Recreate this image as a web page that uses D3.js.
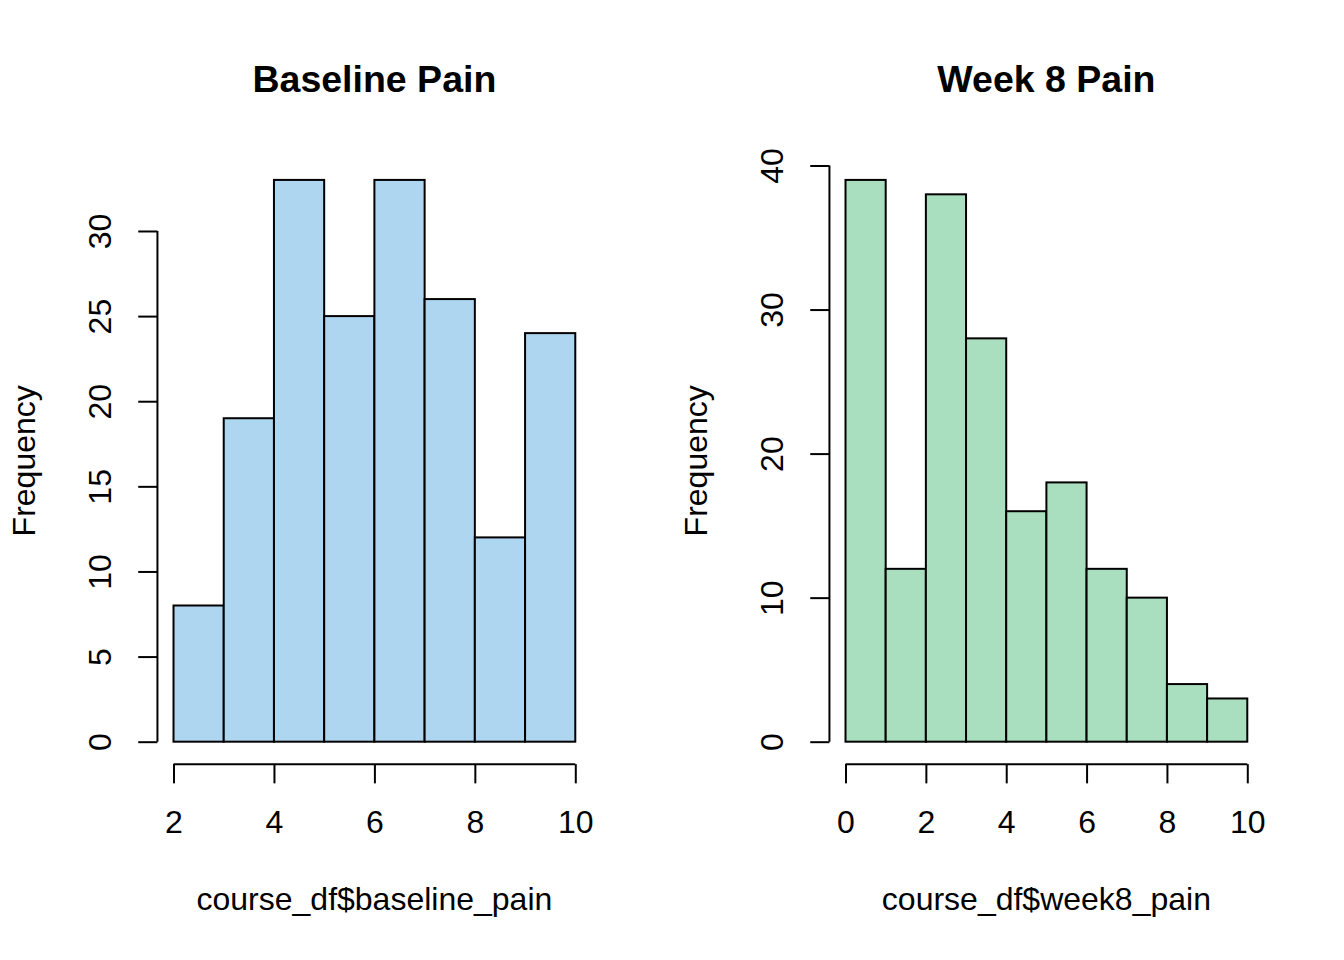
<!DOCTYPE html>
<html>
<head>
<meta charset="utf-8">
<script src="https://cdn.jsdelivr.net/npm/d3@7"></script>
<style>
html,body{margin:0;padding:0;background:#fff;}
text{font-family:"Liberation Sans",Arial,Helvetica,sans-serif;fill:#000;}
</style>
</head>
<body>
<svg id="chart" width="1344" height="960"></svg>
<script>
// ---- data ----
const baselineBreaks = [2,3,4,5,6,7,8,9,10];
const baselineCounts = [8,19,33,25,33,26,12,24];
const baselineXTicks = [2,4,6,8,10];
const baselineYTicks = [0,5,10,15,20,25,30];

const week8Breaks = [0,1,2,3,4,5,6,7,8,9,10];
const week8Counts = [39,12,38,28,16,18,12,10,4,3];
const week8XTicks = [0,2,4,6,8,10];
const week8YTicks = [0,10,20,30,40];

const panels = [
  {title:"Baseline Pain", xlab:"course_df$baseline_pain", ylab:"Frequency",
   breaks:baselineBreaks, counts:baselineCounts, xticks:baselineXTicks, yticks:baselineYTicks, fill:"#AED6F1"},
  {title:"Week 8 Pain", xlab:"course_df$week8_pain", ylab:"Frequency",
   breaks:week8Breaks, counts:week8Counts, xticks:week8XTicks, yticks:week8YTicks, fill:"#A9DFBF"}
];

const svg = d3.select("#chart");
const W = 672, H = 960;
const lineH = 38.4;
const mar = {b:5.1*lineH, l:4.1*lineH, t:4.1*lineH, r:2.1*lineH};
const fs = 32, tickLen = 19.2, lw = 2;

panels.forEach((p,i)=>{
  const g = svg.append("g").attr("transform",`translate(${i*W},0)`);
  const x0 = mar.l, x1 = W - mar.r, y0 = H - mar.b, y1 = mar.t;
  const bmin = d3.min(p.breaks), bmax = d3.max(p.breaks);
  const xpad = (bmax-bmin)*0.04;
  const ymax = d3.max(p.counts);
  const ypad = ymax*0.04;
  const x = d3.scaleLinear().domain([bmin-xpad, bmax+xpad]).range([x0,x1]);
  const y = d3.scaleLinear().domain([-ypad, ymax+ypad]).range([y0,y1]);

  const bins = p.counts.map((c,k)=>({lo:p.breaks[k], hi:p.breaks[k+1], c}));
  g.selectAll("rect.bar").data(bins).enter().append("rect")
    .attr("class","bar")
    .attr("x",d=>x(d.lo)).attr("width",d=>x(d.hi)-x(d.lo))
    .attr("y",d=>y(d.c)).attr("height",d=>y(0)-y(d.c))
    .attr("fill",p.fill).attr("stroke","#000").attr("stroke-width",lw);

  // x axis
  const xa = g.append("g").attr("transform",`translate(0,${y0})`)
    .call(d3.axisBottom(x).tickValues(p.xticks).tickSize(tickLen).tickSizeOuter(0).tickFormat(d3.format("d")));
  xa.select(".domain").remove();
  xa.append("line").attr("x1",x(p.xticks[0])).attr("x2",x(p.xticks[p.xticks.length-1]))
    .attr("y1",0).attr("y2",0).attr("stroke","#000").attr("stroke-width",lw);
  xa.selectAll(".tick line").attr("stroke","#000").attr("stroke-width",lw);
  xa.selectAll(".tick text").attr("dy",null)
    .attr("y",833-y0).attr("font-size",fs).attr("fill","#000");
  xa.attr("font-family",null).attr("font-size",null);

  // y axis
  const ya = g.append("g").attr("transform",`translate(${x0},0)`)
    .call(d3.axisLeft(y).tickValues(p.yticks).tickSize(tickLen).tickSizeOuter(0).tickFormat(d3.format("d")));
  ya.select(".domain").remove();
  ya.append("line").attr("y1",y(p.yticks[0])).attr("y2",y(p.yticks[p.yticks.length-1]))
    .attr("x1",0).attr("x2",0).attr("stroke","#000").attr("stroke-width",lw);
  ya.selectAll(".tick line").attr("stroke","#000").attr("stroke-width",lw);
  ya.selectAll(".tick text").attr("x",null).attr("dy",null).attr("y",null)
    .attr("text-anchor","middle")
    .attr("transform","translate(-46,0) rotate(-90)")
    .attr("font-size",fs).attr("fill","#000");
  ya.attr("font-family",null).attr("font-size",null);

  // title
  g.append("text").attr("x",(x0+x1)/2).attr("y",92).attr("text-anchor","middle")
    .attr("font-size",37.5).attr("font-weight","bold").text(p.title);
  // xlab
  g.append("text").attr("x",(x0+x1)/2).attr("y",910).attr("text-anchor","middle")
    .attr("font-size",fs).text(p.xlab);
  // ylab
  g.append("text").attr("transform",`translate(35,${(y0+y1)/2}) rotate(-90)`)
    .attr("text-anchor","middle").attr("font-size",fs).text(p.ylab);
});
</script>
</body>
</html>
